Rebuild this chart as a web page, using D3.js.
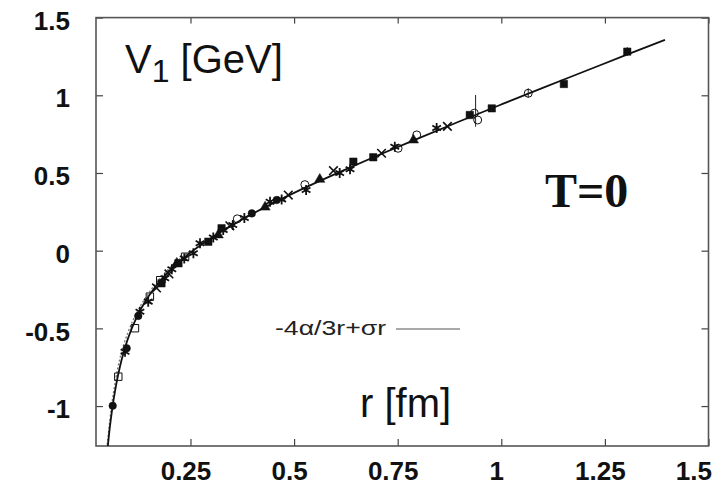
<html>
<head>
<title>V1 at T=0</title>
<style>
body { margin: 0; background: #fff; }
svg { display: block; }
.tick text { font-family: "Liberation Sans", Arial, sans-serif; font-weight: bold; font-size: 26px; fill: #111; }
.tick line { stroke: #444; stroke-width: 1.2; }
</style>
<script type="text/javascript" src="https://d3js.org/d3.v7.min.js"></script>
</head>
<body>
<div id="chart"></div>
<script type="text/javascript">

	var xTicks = [0.25, 0.5, 0.75, 1, 1.25, 1.5];
	var yTicks = [-1, -0.5, 0, 0.5, 1, 1.5];

	// fit line -4a/3r + sigma r
	var fitR = [0.049, 0.055, 0.06, 0.07, 0.08, 0.09, 0.10, 0.12, 0.14, 0.16, 0.18, 0.20, 0.25, 0.30, 0.35, 0.40, 0.50, 0.60, 0.70, 0.80, 0.90, 1.00, 1.10, 1.20, 1.30, 1.395];
	var fitV = [-1.30, -1.145, -1.040, -0.872, -0.744, -0.643, -0.559, -0.429, -0.330, -0.251, -0.185, -0.129, -0.012, 0.082, 0.164, 0.238, 0.372, 0.494, 0.611, 0.723, 0.833, 0.941, 1.048, 1.153, 1.258, 1.357];

	// dotted companion curve at small r
	var dotR = [0.047, 0.055, 0.06, 0.07, 0.08, 0.10, 0.12, 0.15, 0.20, 0.25];
	var dotV = [-1.30, -1.10, -0.99, -0.82, -0.69, -0.52, -0.40, -0.27, -0.11, 0.0];

	var sqFilled = [[0.180, -0.21], [0.221, -0.081], [0.293, 0.058], [0.325, 0.144], [0.643, 0.573], [0.691, 0.601], [0.924, 0.873], [0.977, 0.916], [1.151, 1.073], [1.304, 1.281]];
	var circOpen = [[0.363, 0.205], [0.526, 0.425], [0.751, 0.659], [0.796, 0.745], [0.935, 0.885], [0.943, 0.841], [1.065, 1.013]];
	var sqOpen = [[0.0758, -0.811], [0.116, -0.499], [0.152, -0.296], [0.177, -0.19], [0.237, -0.039]];
	var circFilled = [[0.0623, -0.998], [0.096, -0.628], [0.124, -0.42], [0.398, 0.24], [0.458, 0.326]];
	var stars = [[0.092, -0.65], [0.128, -0.393], [0.148, -0.328], [0.188, -0.178], [0.205, -0.12], [0.235, -0.05], [0.257, -0.017], [0.273, 0.048], [0.305, 0.085], [0.329, 0.133], [0.352, 0.165], [0.38, 0.21], [0.442, 0.315], [0.47, 0.33], [0.529, 0.39], [0.61, 0.50], [0.635, 0.524], [0.743, 0.669], [0.844, 0.79]];
	var triangles = [[0.217, -0.081], [0.317, 0.101], [0.43, 0.28], [0.562, 0.459], [0.788, 0.712]];
	var crosses = [[0.168, -0.24], [0.198, -0.15], [0.345, 0.16], [0.486, 0.358], [0.595, 0.515], [0.711, 0.627], [0.87, 0.80]];
	var errBars = [[0.938, 0.798, 1.002], [1.065, 0.985, 1.045], [1.304, 1.255, 1.31], [0.788, 0.695, 0.73]];

	var width = 722, height = 487;
	var plotLeft = 96, plotRight = 708.5, plotTop = 17.6, plotBottom = 446;

	var x = d3.scaleLinear().domain([0.022, 1.5]).range([plotLeft, plotRight]);
	var y = d3.scaleLinear().domain([-1.257, 1.5]).range([plotBottom, plotTop]);

	var svg = d3.select("#chart").append("svg")
		.attr("width", width)
		.attr("height", height);

	svg.append("defs").append("clipPath").attr("id", "plot")
		.append("rect")
			.attr("x", plotLeft).attr("y", plotTop)
			.attr("width", plotRight - plotLeft).attr("height", plotBottom - plotTop);

	// axes, ticks pointing inward
	var gx = svg.append("g")
		.attr("transform", "translate(0," + plotBottom + ")")
		.call(d3.axisBottom(x).tickValues(xTicks).tickSizeInner(-7).tickSizeOuter(0).tickPadding(16)
			.tickFormat(function (d) { return String(d); }));
	gx.selectAll(".tick text").attr("dx", -5);
	gx.selectAll(".tick text").filter(function (d) { return d == 1.5; })
		.attr("text-anchor", "end").attr("dx", 3);

	svg.append("g")
		.attr("transform", "translate(0," + plotTop + ")")
		.call(d3.axisTop(x).tickValues(xTicks).tickSizeInner(-6).tickSizeOuter(0).tickFormat(""));

	var gy = svg.append("g")
		.attr("transform", "translate(" + plotLeft + ",0)")
		.call(d3.axisLeft(y).tickValues(yTicks).tickSizeInner(-7).tickSizeOuter(0).tickPadding(26)
			.tickFormat(function (d) { return String(d); }));
	gy.selectAll(".tick text").attr("dy", "0.45em");

	svg.append("g")
		.attr("transform", "translate(" + plotRight + ",0)")
		.call(d3.axisRight(y).tickValues(yTicks).tickSizeInner(-7).tickSizeOuter(0).tickFormat(""));

	svg.selectAll(".domain").remove();

	svg.append("rect")
		.attr("x", plotLeft).attr("y", plotTop)
		.attr("width", plotRight - plotLeft).attr("height", plotBottom - plotTop)
		.attr("fill", "none")
		.attr("stroke", "#555")
		.attr("stroke-width", 1.6);

	var plot = svg.append("g").attr("clip-path", "url(#plot)");

	var line = d3.line()
		.x(function (d) { return x(d[0]); })
		.y(function (d) { return y(d[1]); })
		.curve(d3.curveMonotoneX);

	plot.append("path")
		.datum(dotR.map(function (r, i) { return [r, dotV[i]]; }))
		.attr("d", line)
		.attr("fill", "none")
		.attr("stroke", "#777")
		.attr("stroke-width", 1.3)
		.attr("stroke-dasharray", "2,2");

	plot.append("path")
		.datum(fitR.map(function (r, i) { return [r, fitV[i]]; }))
		.attr("d", line)
		.attr("fill", "none")
		.attr("stroke", "#111")
		.attr("stroke-width", 1.8);

	// error bars
	plot.selectAll("line.err")
		.data(errBars)
		.enter().append("line")
			.attr("class", "err")
			.attr("x1", function (d) { return x(d[0]); })
			.attr("x2", function (d) { return x(d[0]); })
			.attr("y1", function (d) { return y(d[1]); })
			.attr("y2", function (d) { return y(d[2]); })
			.attr("stroke", "#222")
			.attr("stroke-width", 1);

	function drawMarkers (data, type, size, filled, sw) {
		plot.append("g").selectAll("path")
			.data(data)
			.enter().append("path")
				.attr("transform", function (d) { return "translate(" + x(d[0]) + "," + y(d[1]) + ")"; })
				.attr("d", d3.symbol().type(type).size(size))
				.attr("fill", filled ? "#111" : "none")
				.attr("stroke", "#111")
				.attr("stroke-width", sw);
	}

	drawMarkers(sqOpen, d3.symbolSquare, 55, false, 1);
	drawMarkers(circOpen, d3.symbolCircle, 50, false, 1);
	drawMarkers(stars, d3.symbolAsterisk, 70, false, 1.8);
	drawMarkers(crosses, d3.symbolTimes, 50, false, 1.6);
	drawMarkers(triangles, d3.symbolTriangle, 45, true, 0.5);
	drawMarkers(circFilled, d3.symbolCircle, 45, true, 0.5);
	drawMarkers(sqFilled, d3.symbolSquare, 55, true, 0.5);

	// labels
	var ylab = svg.append("text")
		.attr("x", 125).attr("y", 73)
		.attr("font-family", "Liberation Sans, Arial, sans-serif")
		.attr("font-size", 40)
		.attr("fill", "#111");
	ylab.append("tspan").text("V");
	ylab.append("tspan").attr("font-size", 32).attr("dy", 9).text("1");
	ylab.append("tspan").attr("dy", -9).text(" [GeV]");

	svg.append("text")
		.attr("x", 360).attr("y", 417)
		.attr("font-family", "Liberation Sans, Arial, sans-serif")
		.attr("font-size", 40)
		.attr("fill", "#111")
		.text("r [fm]");

	svg.append("text")
		.attr("x", 545).attr("y", 207)
		.attr("font-family", "Liberation Serif, Times New Roman, serif")
		.attr("font-weight", "bold")
		.attr("font-size", 48)
		.attr("fill", "#111")
		.text("T=0");

	// legend
	svg.append("text")
		.attr("x", 275).attr("y", 335)
		.attr("font-family", "Liberation Sans, Arial, sans-serif")
		.attr("font-size", 20)
		.attr("textLength", 111)
		.attr("lengthAdjust", "spacingAndGlyphs")
		.attr("fill", "#222")
		.text("-4\u03b1/3r+\u03c3r");
	svg.append("line")
		.attr("x1", 396).attr("x2", 460)
		.attr("y1", 329).attr("y2", 329)
		.attr("stroke", "#555")
		.attr("stroke-width", 1.2);

</script>
</body>
</html>
